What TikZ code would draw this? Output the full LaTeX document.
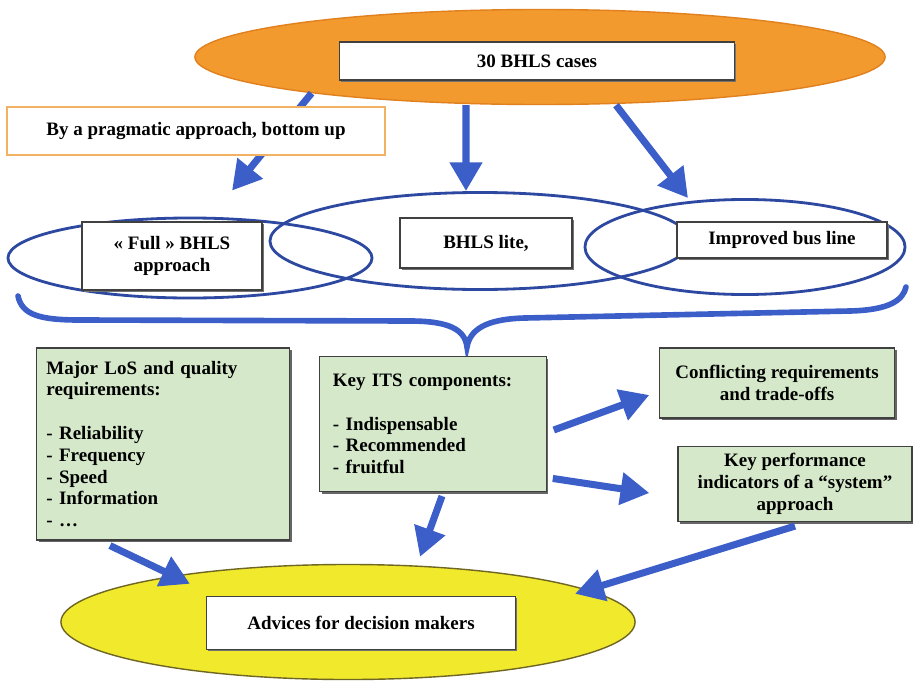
\documentclass[tikz,border=0pt]{standalone}
\usepackage{fontspec}
\setmainfont{Liberation Serif}
\usetikzlibrary{positioning}
\usetikzlibrary{arrows.meta}
\usetikzlibrary{shapes.geometric}
\usetikzlibrary{shadows}

\definecolor{caseorange}{HTML}{F39A2E}
\definecolor{caseedge}{HTML}{E0801E}
\definecolor{notebox}{HTML}{F2B262}
\definecolor{ovalblue}{HTML}{2C48A0}
\definecolor{arrowblue}{HTML}{3B5EC8}
\definecolor{itsgreen}{HTML}{D5E9CA}
\definecolor{adviceyellow}{HTML}{F1E92C}
\definecolor{adviceedge}{HTML}{6E6622}

\begin{document}
\begin{tikzpicture}[
			x=0.025cm, y=-0.025cm,
			font=\fontsize{13.5}{15.5}\selectfont\bfseries,
			oval/.style={draw=ovalblue, ellipse, line width=2pt, inner sep=0pt},
			whitebox/.style={draw=black!75, fill=white, rectangle, line width=0.8pt, align=center, inner sep=0pt,
				drop shadow={shadow xshift=1.2pt, shadow yshift=-1.2pt, fill=black!55, opacity=1}},
			greenbox/.style={draw=black!75, fill=itsgreen, rectangle, line width=0.8pt, inner sep=0pt,
				drop shadow={shadow xshift=1.5pt, shadow yshift=-1.5pt, fill=black!60, opacity=1}},
			arrow/.style={-{Triangle[length=0.72cm, width=0.78cm]}, line width=5pt, draw=arrowblue}
			]
			\useasboundingbox (0,0) rectangle (913,684);
			
			% Cases on top
			\node[ellipse, fill=caseorange, draw=caseedge, line width=1pt, minimum width=17.25cm, minimum height=2.375cm] (cases) at (540,57) {};
			\node[whitebox, minimum width=9.875cm, minimum height=0.95cm] (casesbox) at (537,61) {30 BHLS cases};
			
			% Three families of lines
			\node[oval, minimum width=9.1cm, minimum height=2.0cm] (fullell) at (190,258) {};
			\node[oval, minimum width=10.5cm, minimum height=2.425cm] (liteell) at (480,241) {};
			\node[oval, minimum width=8.0cm, minimum height=2.375cm] (busell) at (745,247) {};
			\node[whitebox, minimum width=4.5cm, minimum height=1.7cm] (full) at (172,256) {« Full » BHLS\\approach};
			\node[whitebox, minimum width=4.3cm, minimum height=1.25cm] (lite) at (486,243) {BHLS lite,};
			\node[whitebox, minimum width=5.25cm, minimum height=0.9cm] (bus) at (782,240) {Improved bus line};
			
			% Arrows from the cases
			\draw[arrow] (cases.189) -- ([shift={(1.05cm,0.65cm)}]fullell.north);
			\draw[arrow] ([xshift=-1.85cm]cases.south) -- ([xshift=-0.35cm]liteell.north);
			\draw[arrow] ([xshift=1.9cm]cases.south) -- ([xshift=-1.425cm]busell.north);
			\node[draw=notebox, fill=white, line width=1.5pt, minimum width=9.45cm, minimum height=1.2cm] (pragmatic) at (196,131) {By a pragmatic approach, bottom up};
			
			% Brace
			\draw[arrowblue, line width=4pt, line cap=round]
				(18,296) .. controls (22,315) and (40,320) .. (80,320) -- (410,321)
				.. controls (450,321) and (465,330) .. (467,347)
				.. controls (470,330) and (485,319) .. (525,318) -- (850,311)
				.. controls (890,310) and (903,300) .. (906,287);
			
			% Requirements and components
			\node[greenbox, minimum width=6.325cm, minimum height=4.8cm, text width=5.825cm, inner xsep=0.25cm, align=left] (major) at (163,444)
				{Major LoS and quality\\requirements:\\[15.5pt]- Reliability\\- Frequency\\- Speed\\- Information\\- …};
			\node[greenbox, minimum width=5.65cm, minimum height=3.375cm, text width=5.0cm, inner xsep=0.33cm, align=left] (its) at (433,424)
				{Key ITS components:\\[15.5pt]- Indispensable\\- Recommended\\- fruitful};
			\node[greenbox, minimum width=5.875cm, minimum height=1.75cm, align=center] (conflict) at (777,383)
				{Conflicting requirements\\and trade-offs};
			\node[greenbox, minimum width=5.85cm, minimum height=1.875cm, align=center] (kpi) at (795,484)
				{Key performance\\indicators of a “system”\\approach};
			
			% Advices
			\node[ellipse, fill=adviceyellow, draw=adviceedge, line width=1pt, minimum width=14.35cm, minimum height=2.875cm] (adviceell) at (348,622) {};
			\node[whitebox, minimum width=7.725cm, minimum height=1.325cm] (advice) at (361,623) {Advices for decision makers};
			
			% Connections
			\draw[arrow] ([shift={(0.175cm,-0.15cm)}]its.east) -- ([shift={(-0.24cm,-0.3cm)}]conflict.west);
			\draw[arrow] ([shift={(0.15cm,0.34cm)}]its.south east) -- ([shift={(-0.7cm,-0.225cm)}]kpi.west);
			\draw[arrow] ([shift={(0.225cm,-0.1cm)}]its.south) -- ([shift={(1.8cm,0.175cm)}]adviceell.north);
			\draw[arrow] ([shift={(-1.325cm,-0.125cm)}]major.south) -- ([shift={(-3.95cm,-0.5cm)}]adviceell.north);
			\draw[arrow] ([yshift=-0.1cm]kpi.south) -- ([shift={(5.675cm,-0.75cm)}]adviceell.north);
		\end{tikzpicture}
\end{document}
